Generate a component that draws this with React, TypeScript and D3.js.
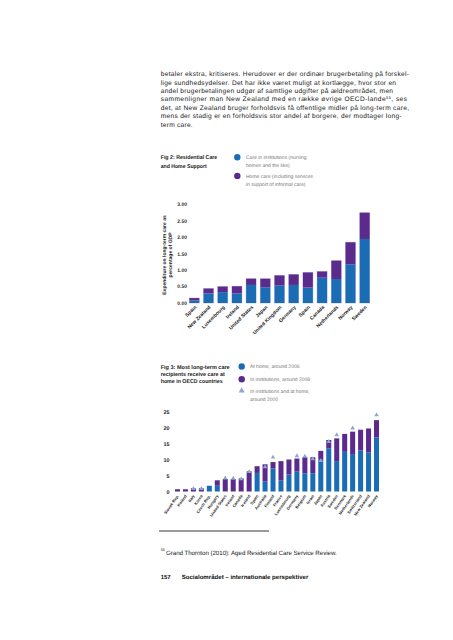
import React from "react";
import * as d3 from "d3";

// ---------- DATA ----------
const bodyLines = [
  "betaler ekstra, kritiseres. Herudover er der ordinær brugerbetaling på forskel-",
  "lige sundhedsydelser. Det har ikke været muligt at kortlægge, hvor stor en",
  "andel brugerbetalingen udgør af samtlige udgifter på ældreområdet, men",
  "sammenligner man New Zealand med en række øvrige OECD-lande|55|, ses",
  "det, at New Zealand bruger forholdsvis få offentlige midler på long-term care,",
  "mens der stadig er en forholdsvis stor andel af borgere, der modtager long-",
  "term care.",
];

const fig2Title = ["Fig 2: Residential Care", "and Home Support"];
const fig2Legend = [
  ["Care in institutions (nursing", "homes and the like)"],
  ["Home care (including services", "in support of informal care)"],
];
const fig2AxisTitle = ["Expenditure on long-term care as", "percentage of GDP"];
const fig2Ticks = [0, 0.5, 1, 1.5, 2, 2.5, 3];
const fig2Countries = [
  "Spain", "New Zealand", "Luxembourg", "Ireland", "United States", "Japan",
  "United Kingdom", "Germany", "Spain", "Canada", "Netherlands", "Norway", "Sweden",
];
const fig2Institutions = [0.08, 0.29, 0.33, 0.29, 0.55, 0.48, 0.53, 0.55, 0.47, 0.77, 0.73, 1.18, 1.95];
const fig2HomeCare = [0.07, 0.15, 0.17, 0.22, 0.19, 0.26, 0.31, 0.32, 0.46, 0.19, 0.56, 0.67, 0.8];

const fig3Title = ["Fig 3: Most long-term care", "recipients receive care at", "home in OECD countries"];
const fig3Legend = [
  ["At home, around 2006"],
  ["In institutions, around 2008"],
  ["In institutions and at home,", "around 2000"],
];
const fig3Ticks = [0, 5, 10, 15, 20, 25];
const fig3Countries = [
  "Slovak Rep.", "Poland", "Italy", "Korea", "Czech Rep.", "Hungary", "United States",
  "Ireland", "Canada", "Iceland", "Spain", "Australia", "Finland", "France",
  "Luxembourg", "Germany", "Belgium", "Israel", "Japan", "Austria", "Sweden",
  "Denmark", "Netherlands", "Switzerland", "New Zealand", "Norway",
];
const fig3AtHome = [0, 0, 0, 0, 1.8, 1.8, 0, 0, 0, 0, 5.8, 3.1, 7.2, 3.4, 5.3, 6.2, 5.7, 5.7, 9.9, 13.5, 9.5, 12.4, 11.7, 12.8, 12.2, 16.9];
const fig3Institutions = [0.7, 0.7, 1.0, 1.0, 0, 1.7, 3.9, 3.9, 4.1, 6.3, 2.1, 5.4, 2.0, 6.1, 4.7, 4.1, 5.0, 5.0, 2.8, 2.6, 7.1, 5.6, 7.0, 6.5, 7.5, 5.4];
const fig3Around2000: (number | null)[] = [null, null, 0.9, 0.9, null, null, 4.2, 4.1, 3.9, 6.2, null, 7.7, 10.7, null, null, 11.1, 11.0, 10.2, 9.6, 15.6, 17.7, null, 19.8, null, null, 23.9];

const footnote = "Grand Thornton (2010): Aged Residential Care Service Review.";
const footerNum = "157";
const footerText = "Socialområdet – internationale perspektiver";

// ---------- STYLE ----------
const BLUE = "#1a6db5";
const PURPLE = "#5a2b8c";
const TRI = "#8fa6d2";
const FONT = "'Liberation Sans', Arial, sans-serif";
const bodyEnds = [409, 396, 393, 407, 409, 401.7, 192.7];

export default function App() {
  const x2 = d3.scaleBand<number>().domain(d3.range(fig2Countries.length)).range([187.2, 371.8]).paddingInner(0.3).paddingOuter(0.15);
  const y2 = d3.scaleLinear().domain([0, 3]).range([303, 204.5]);
  const x3 = d3.scaleBand<number>().domain(d3.range(fig3Countries.length)).range([173.5, 380.5]).paddingInner(0.37).paddingOuter(0.185);
  const y3 = d3.scaleLinear().domain([0, 25]).range([491.5, 411.5]);
  const tri = d3.symbol(d3.symbolTriangle, 9)() as string;
  const triLegend = d3.symbol(d3.symbolTriangle, 16)() as string;

  return (
    <div style={{ position: "absolute", left: 0, top: 0 }}>
      <svg width={453} height={640} style={{ display: "block", background: "#fff" }} fontFamily={FONT}
        textRendering="geometricPrecision">
        {bodyLines.map((l, i) => {
          const parts = l.split("|");
          return (
            <text key={i} x={160.7} y={76.4 + i * 8.35} fontSize={6.6} fill="#1a1a1a"
              textLength={bodyEnds[i] - 160.7} lengthAdjust="spacing">
              {parts.length > 1 ? (
                <>
                  {parts[0]}
                  <tspan fontSize={4} dy={-2.2}>{parts[1]}</tspan>
                  <tspan dy={2.2}>{parts[2]}</tspan>
                </>
              ) : l}
            </text>
          );
        })}

        {/* ---------- Fig 2 ---------- */}
        {fig2Title.map((t, i) => (
          <text key={i} x={160.7} y={159.4 + i * 8.5} fontSize={5.6} fontWeight="bold" fill="#222"
            textLength={i === 0 ? 56.6 : 46} lengthAdjust="spacingAndGlyphs">{t}</text>
        ))}
        {fig2Legend.map((lines, i) => (
          <g key={i}>
            <circle cx={237.3} cy={157.3 + i * 18.6} r={3.2} fill={i === 0 ? BLUE : PURPLE} />
            {lines.map((t, j) => (
              <text key={j} x={246} y={159.2 + i * 18.6 + j * 8.2} fontSize={5} fill="#777">{t}</text>
            ))}
          </g>
        ))}
        {fig2AxisTitle.map((t, i) => (
          <text key={i} transform={`translate(${165.8 + i * 6},255) rotate(-90)`} textAnchor="middle"
            fontSize={5} fontWeight="bold" fill="#222">{t}</text>
        ))}
        {fig2Ticks.map((v) => (
          <text key={v} x={187} y={y2(v) + 1.8} textAnchor="end" fontSize={5} fontWeight="bold" fill="#333">
            {d3.format(".2f")(v)}
          </text>
        ))}
        {fig2Countries.map((c, i) => {
          const x = x2(i)!;
          const w = x2.bandwidth();
          const b = fig2Institutions[i];
          const h = fig2HomeCare[i];
          return (
            <g key={i}>
              <rect x={x} y={y2(b + h)} width={w} height={y2(0) - y2(b + h)} fill="none" stroke="#cdbfe3" strokeWidth={0.8} />
              <rect x={x} y={y2(b)} width={w} height={y2(0) - y2(b)} fill={BLUE} />
              <rect x={x} y={y2(b + h)} width={w} height={y2(b) - y2(b + h)} fill={PURPLE} />
              <text transform={`translate(${x + w / 2 + 2.5},${307.5}) rotate(-45)`} textAnchor="end"
                fontSize={5} fontWeight="bold" fill="#222">{c}</text>
            </g>
          );
        })}

        {/* ---------- Fig 3 ---------- */}
        {fig3Title.map((t, i) => (
          <text key={i} x={160.7} y={368.5 + i * 7} fontSize={5.6} fontWeight="bold" fill="#222"
            textLength={[69, 64, 62][i]} lengthAdjust="spacingAndGlyphs">{t}</text>
        ))}
        {fig3Legend.map((lines, i) => {
          const cy = [366.5, 379.3, 390.7][i];
          return (
            <g key={i}>
              {i < 2 ? (
                <circle cx={241.7} cy={cy} r={3.2} fill={i === 0 ? BLUE : PURPLE} />
              ) : (
                <path d={triLegend} transform={`translate(241.7,${cy})`} fill={TRI} />
              )}
              {lines.map((t, j) => (
                <text key={j} x={250} y={cy + 1.9 + j * 8.2} fontSize={5} fill="#777">{t}</text>
              ))}
            </g>
          );
        })}
        {fig3Ticks.map((v) => (
          <text key={v} x={169.5} y={y3(v) + 2} textAnchor="end" fontSize={5.4} fontWeight="bold" fill="#222">{v}</text>
        ))}
        {fig3Countries.map((c, i) => {
          const x = x3(i)!;
          const w = x3.bandwidth();
          const b = fig3AtHome[i];
          const p = fig3Institutions[i];
          const t = fig3Around2000[i];
          return (
            <g key={i}>
              <rect x={x} y={y3(b)} width={w} height={y3(0) - y3(b)} fill={BLUE} />
              <rect x={x} y={y3(b + p)} width={w} height={y3(b) - y3(b + p)} fill={PURPLE} />
              {t !== null && <path d={tri} transform={`translate(${x + w / 2},${y3(t)})`} fill={TRI} />}
              <text transform={`translate(${x + w / 2 + 1.5},${496}) rotate(-55)`} textAnchor="end"
                fontSize={4} fontWeight="bold" fill="#222">{c}</text>
            </g>
          );
        })}

        <line x1={159} x2={269} y1={531} y2={531} stroke="#000" strokeWidth={0.8} />
        <text x={160.7} y={551} fontSize={3.8} fill="#222">55</text>
        <text x={166} y={554.5} fontSize={6.2} fill="#222" textLength={170.7} lengthAdjust="spacing">{footnote}</text>
        <text x={160.7} y={578.8} fontSize={6} fontWeight="bold" fill="#111">{footerNum}</text>
        <text x={181.7} y={578.8} fontSize={6} fontWeight="bold" fill="#111" textLength={126.6} lengthAdjust="spacingAndGlyphs">{footerText}</text>
      </svg>
    </div>
  );
}
